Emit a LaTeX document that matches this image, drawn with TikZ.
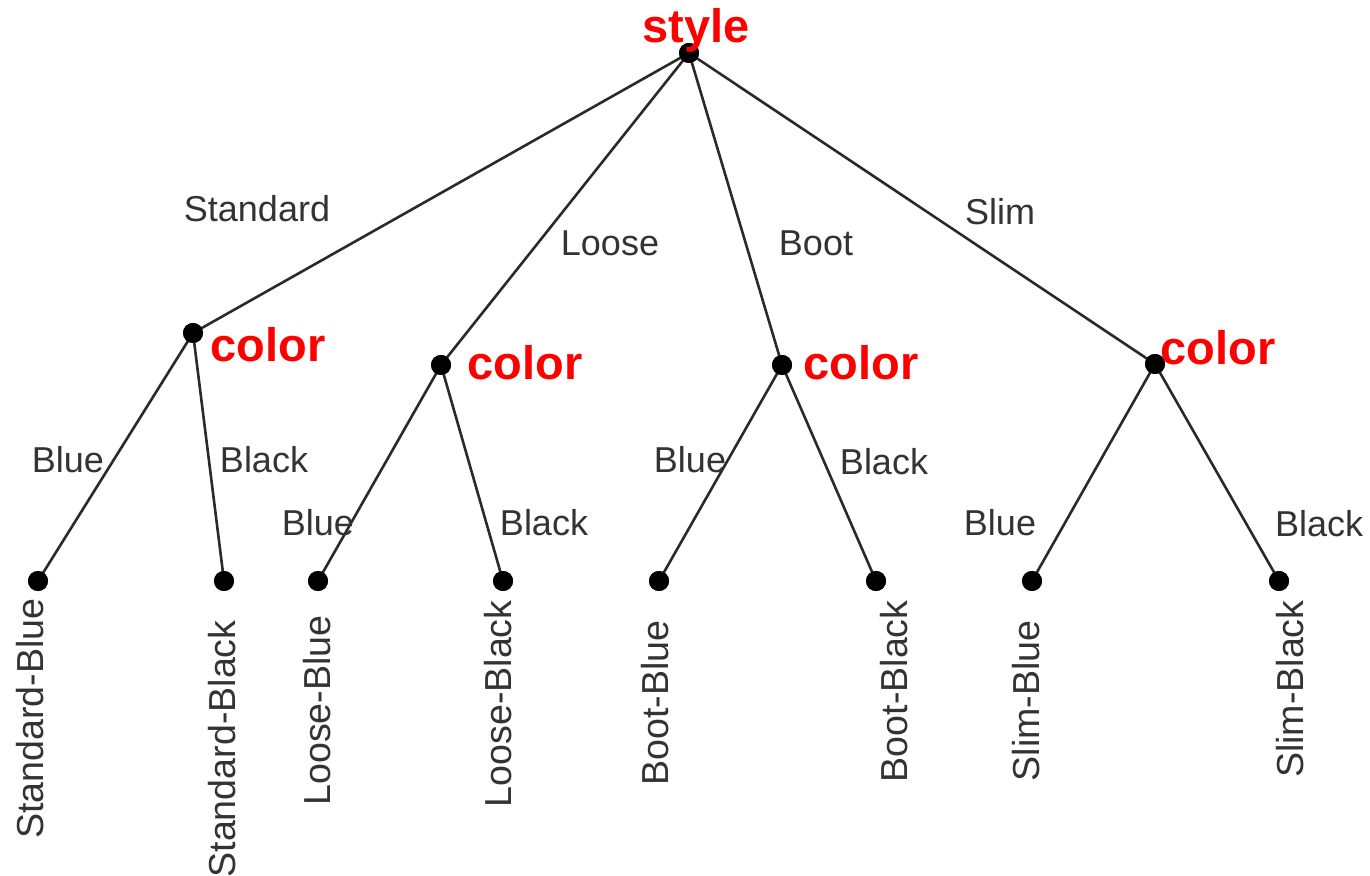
\documentclass[tikz,border=0pt]{standalone}
\usepackage{fontspec}
\setmainfont{Liberation Sans}
\definecolor{linegray}{HTML}{2A2A2A}
\definecolor{textgray}{HTML}{333333}
\definecolor{hred}{HTML}{FF0000}
\begin{document}
\begin{tikzpicture}[x=0.5pt,y=-0.5pt,
  dot/.style={circle,fill=black,inner sep=0pt,minimum size=10pt},
  edge/.style={draw=linegray,line width=1.3pt},
  elab/.style={text=textgray,font=\fontsize{18}{20}\selectfont,anchor=base,inner sep=0pt},
  leaflab/.style={text=textgray,font=\fontsize{18.8}{20}\selectfont,rotate=90,anchor=east,inner sep=0pt},
  varlab/.style={text=hred,font=\fontsize{23.5}{26}\selectfont\bfseries,anchor=base,inner sep=0pt}]
\useasboundingbox (0,0) rectangle (1370,876);
% nodes
\node[dot] (root) at (689,53) {};
\node[dot] (c1) at (193,333) {};
\node[dot] (c2) at (441,365) {};
\node[dot] (c3) at (782,365) {};
\node[dot] (c4) at (1155,364) {};
\node[dot] (l1) at (38,581) {};
\node[dot] (l2) at (224,581) {};
\node[dot] (l3) at (318,581) {};
\node[dot] (l4) at (503,581) {};
\node[dot] (l5) at (659,581) {};
\node[dot] (l6) at (876,581) {};
\node[dot] (l7) at (1032,581) {};
\node[dot] (l8) at (1279,581) {};
% edges
\draw[edge] (root.center) -- (c1.center);
\draw[edge] (root.center) -- (c2.center);
\draw[edge] (root.center) -- (c3.center);
\draw[edge] (root.center) -- (c4.center);
\draw[edge] (c1.center) -- (l1.center);
\draw[edge] (c1.center) -- (l2.center);
\draw[edge] (c2.center) -- (l3.center);
\draw[edge] (c2.center) -- (l4.center);
\draw[edge] (c3.center) -- (l5.center);
\draw[edge] (c3.center) -- (l6.center);
\draw[edge] (c4.center) -- (l7.center);
\draw[edge] (c4.center) -- (l8.center);
% redraw dots on top
\foreach \n in {root,c1,c2,c3,c4,l1,l2,l3,l4,l5,l6,l7,l8}
  \fill (\n) circle (5pt);
% variable labels
\node[varlab] (vstyle) at (696,43) {style};
\node[varlab] (v1) at (268,362) {color};
\node[varlab] (v2) at (525,380) {color};
\node[varlab] (v3) at (861,380) {color};
\node[varlab] (v4) at (1218,365) {color};
% edge labels
\node[elab] (e1) at (257,222) {Standard};
\node[elab] (e2) at (610,256) {Loose};
\node[elab] (e3) at (816,256) {Boot};
\node[elab] (e4) at (1000,225) {Slim};
\node[elab] (e5) at (68,473) {Blue};
\node[elab] (e6) at (264,473) {Black};
\node[elab] (e7) at (318,536) {Blue};
\node[elab] (e8) at (544,536) {Black};
\node[elab] (e9) at (690,473) {Blue};
\node[elab] (e10) at (884,475) {Black};
\node[elab] (e11) at (1000,536) {Blue};
\node[elab] (e12) at (1319,537) {Black};
% leaf labels
\node[leaflab] (t1) at (30,598) {Standard-Blue};
\node[leaflab] (t2) at (222,620) {Standard-Black};
\node[leaflab] (t3) at (317,615) {Loose-Blue};
\node[leaflab] (t4) at (498,600) {Loose-Black};
\node[leaflab] (t5) at (655,620) {Boot-Blue};
\node[leaflab] (t6) at (894,600) {Boot-Black};
\node[leaflab] (t7) at (1026,620) {Slim-Blue};
\node[leaflab] (t8) at (1290,600) {Slim-Black};
\end{tikzpicture}
\end{document}
